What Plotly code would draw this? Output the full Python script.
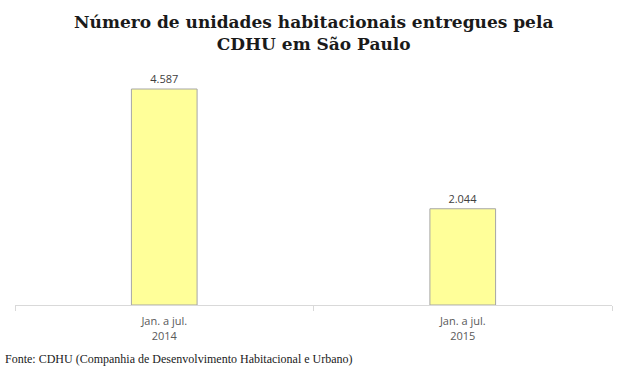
import plotly.graph_objects as go

categories = ["Jan. a jul.<br>2014", "Jan. a jul.<br>2015"]
values = [4587, 2044]
title_text = "<b>Número de unidades habitacionais entregues pela<br>CDHU em São Paulo</b>"
source_text = "Fonte: CDHU (Companhia de Desenvolvimento Habitacional e Urbano)"

fig = go.Figure(go.Bar(
    x=categories, y=values,
    marker=dict(color="#ffff99", line=dict(color="#a6a6a6", width=1)),
    width=0.22,
    text=values, texttemplate="%{y:,}", textposition="outside",
    textfont=dict(family="Open Sans, Arial, sans-serif", size=11, color="#404040"),
    cliponaxis=False,
))

fig.update_layout(
    width=625, height=375,
    paper_bgcolor="white", plot_bgcolor="white",
    separators=",.",
    margin=dict(l=15, r=13, t=60, b=70),
    showlegend=False,
    xaxis=dict(showline=True, linecolor="#d9d9d9", linewidth=1,
               tickson="boundaries", ticks="outside", ticklen=5, tickcolor="#d9d9d9",
               ticklabelstandoff=6,
               tickfont=dict(family="Open Sans, Arial, sans-serif", size=11, color="#595959"),
               showgrid=False),
    yaxis=dict(visible=False, range=[0, 5203], showgrid=False),
    annotations=[
        dict(text=title_text, xref="paper", yref="paper", x=0.5, y=1.0 + 27 / 245,
             xanchor="center", yanchor="middle", showarrow=False,
             font=dict(family="DejaVu Serif, Georgia, serif", size=17, color="#1a1a1a")),
        dict(text=source_text, xref="paper", yref="paper", x=-0.02, y=-54 / 245,
             xanchor="left", yanchor="middle", showarrow=False,
             font=dict(family="Liberation Serif, serif", size=12, color="#1a1a1a")),
    ],
)

fig.write_html("out.html", config={"displayModeBar": False},
               post_script="document.body.style.margin='0';")
